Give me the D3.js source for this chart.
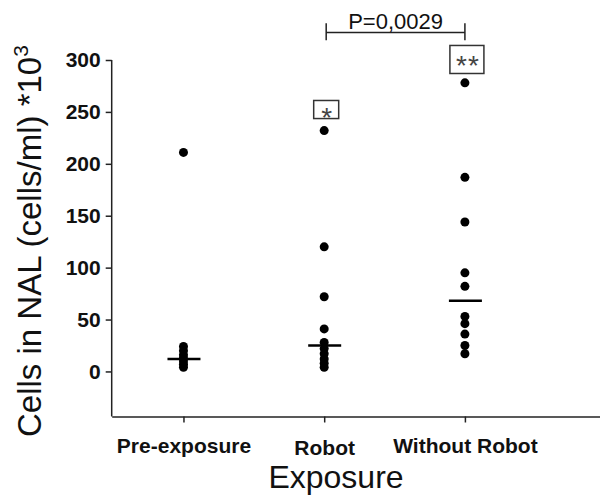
<!DOCTYPE html>
<html>
<head>
<meta charset="utf-8">
<script src="https://cdn.jsdelivr.net/npm/d3@7"></script>
<style>
  body { margin: 0; background: #fff; }
  text { font-family: Arial, "Liberation Sans", sans-serif; }
</style>
</head>
<body>
<div id="chart"></div>
<script>
// groups and values (cells *10^3 per ml)
var groups = ["Pre-exposure", "Robot", "Without Robot"];
var preExposure = [211, 24, 20, 16, 13, 10, 7, 4];
var robot = [232, 120, 72, 41, 28, 22, 17, 12, 8, 4];
var withoutRobot = [278, 187, 144, 95, 82, 53, 46, 36, 25, 17];
var medians = [12, 25, 68];
var yTicks = [0, 50, 100, 150, 200, 250, 300];
var stars = ["", "*", "**"];
var pLabel = "P=0,0029";

var width = 600, height = 495;

var svg = d3.select("#chart")
  .append("svg")
  .attr("width", width)
  .attr("height", height);

var x = d3.scaleLinear()
  .domain([0.49, 3.96])
  .range([111.7, 600]);

var y = d3.scaleLinear()
  .domain([-43.4, 300])
  .range([416.5, 60]);

var series = [preExposure, robot, withoutRobot];

// Y axis
var yAxis = svg.append("g")
  .attr("transform", "translate(" + x(0.49) + ",0)")
  .call(d3.axisLeft(y).tickValues(yTicks).tickSize(6).tickSizeOuter(0).tickPadding(5));
yAxis.select(".domain").attr("stroke", "#222").attr("stroke-width", 1.5)
  .attr("d", "M0," + y(300) + "V" + y(-43.4));
yAxis.selectAll(".tick line").attr("stroke", "#222").attr("stroke-width", 1.5);
yAxis.selectAll(".tick text")
  .attr("fill", "#111")
  .style("font-size", "21px")
  .style("font-weight", "bold")
  .style("font-family", "Arial, 'Liberation Sans', sans-serif");

// X axis
var xAxis = svg.append("g")
  .attr("transform", "translate(0," + y(-43.4) + ")")
  .call(d3.axisBottom(x).tickValues([1, 2, 3]).tickSize(6).tickSizeOuter(0)
    .tickFormat(function(d) { return groups[d - 1]; }));
xAxis.select(".domain").attr("stroke", "#222").attr("stroke-width", 1.5);
xAxis.selectAll(".tick line").attr("stroke", "#222").attr("stroke-width", 1.5);
xAxis.selectAll(".tick text")
  .attr("y", function(d) { return d === 2 ? 24 : 21.5; })
  .attr("dy", "0.71em")
  .attr("fill", "#111")
  .style("font-size", "21px")
  .style("font-weight", "bold")
  .style("font-family", "Arial, 'Liberation Sans', sans-serif");

// axis titles
svg.append("text")
  .attr("x", 336)
  .attr("y", 488)
  .attr("text-anchor", "middle")
  .style("font-size", "32px")
  .attr("fill", "#111")
  .text("Exposure");

var yTitle = svg.append("text")
  .attr("transform", "rotate(-90)")
  .attr("x", -437)
  .attr("y", 41)
  .attr("text-anchor", "start")
  .style("font-size", "33px")
  .attr("fill", "#111");
yTitle.append("tspan").text("Cells in NAL (cells/ml) *10");
yTitle.append("tspan").attr("dy", -13).style("font-size", "21px").text("3");

// dots
series.forEach(function(vals, i) {
  svg.append("g").selectAll("circle")
    .data(vals)
    .enter()
    .append("circle")
    .attr("cx", x(i + 1))
    .attr("cy", function(d) { return y(d); })
    .attr("r", 4.5)
    .attr("fill", "#000");
});

// median lines
svg.append("g").selectAll("line")
  .data(medians)
  .enter()
  .append("line")
  .attr("x1", function(d, i) { return x(i + 1) - 16; })
  .attr("x2", function(d, i) { return x(i + 1) + 17; })
  .attr("y1", function(d) { return y(d); })
  .attr("y2", function(d) { return y(d); })
  .attr("stroke", "#000")
  .attr("stroke-width", 2.5);

// significance boxes
var starBoxes = [null, {top: 261, bottom: 243.6, w: 25, mid: 250}, {top: 314, bottom: 287, w: 34, mid: 300.5}];
starBoxes.forEach(function(b, i) {
  if (!b) return;
  var cx = x(i + 1) + 2;
  svg.append("rect")
    .attr("x", cx - b.w / 2)
    .attr("y", y(b.top))
    .attr("width", b.w)
    .attr("height", y(b.bottom) - y(b.top))
    .attr("fill", "#fff")
    .attr("stroke", "#333")
    .attr("stroke-width", 1.5);
  svg.append("text")
    .attr("x", cx + 1)
    .attr("y", y(b.mid) + 15.5)
    .attr("text-anchor", "middle")
    .style("font-size", "28px")
    .style("letter-spacing", "1px")
    .attr("fill", "#444")
    .text(stars[i]);
});

// p-value bracket
var bx1 = x(2) + 2, bx2 = x(3);
svg.append("path")
  .attr("d", "M" + bx1 + "," + y(335.5) + "V" + y(319) +
             "M" + bx1 + "," + y(326.5) + "H" + bx2 +
             "M" + bx2 + "," + y(335.5) + "V" + y(319))
  .attr("fill", "none")
  .attr("stroke", "#222")
  .attr("stroke-width", 1.5);

svg.append("text")
  .attr("x", (bx1 + bx2) / 2)
  .attr("y", 29)
  .attr("text-anchor", "middle")
  .style("font-size", "22px")
  .attr("fill", "#111")
  .text(pLabel);
</script>
</body>
</html>
